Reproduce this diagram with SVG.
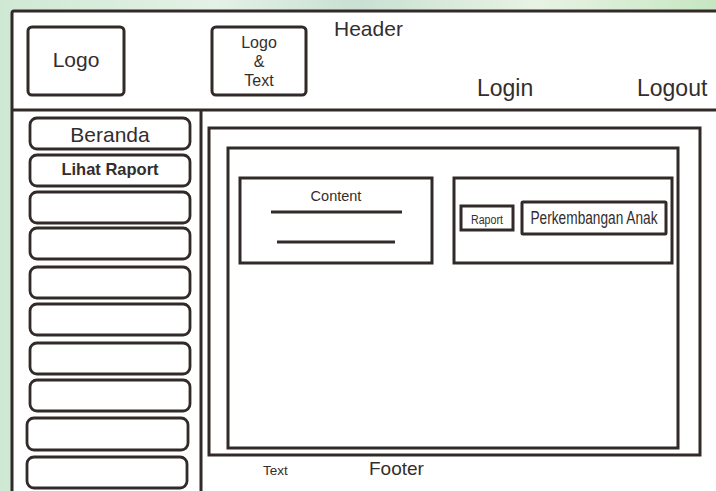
<svg xmlns="http://www.w3.org/2000/svg" width="716" height="491" viewBox="0 0 716 491">
<defs>
<linearGradient id="bg" x1="0" y1="0" x2="1" y2="0">
<stop offset="0" stop-color="#cfe8d4"/>
<stop offset="0.3" stop-color="#e4f1e6"/>
<stop offset="0.5" stop-color="#c9e0d2"/>
<stop offset="0.75" stop-color="#e8f3e4"/>
<stop offset="1" stop-color="#c6e6c2"/>
</linearGradient>
</defs>
<style>
.ln{fill:none;stroke:#322a29;stroke-width:3}
.bx{fill:#fff;stroke:#322a29;stroke-width:3}
.btn{fill:#fff;stroke:#322a29;stroke-width:2.8}
.t{font-family:"Liberation Sans",Arial,sans-serif;fill:#332e2d}
</style>
<rect x="0" y="0" width="716" height="491" fill="url(#bg)"/>
<rect x="12" y="11" width="704" height="480" fill="#fff"/>
<g id="frame">
<path class="ln" d="M716 11 H14 Q12 11 12 13 V491"/>
<line class="ln" x1="12" y1="110" x2="716" y2="110"/>
<line class="ln" x1="201" y1="110" x2="201" y2="491"/>
</g>
<g id="logo"><rect class="bx" x="28" y="27" width="96" height="68" rx="4"/><text class="t" x="76" y="67" font-size="21" text-anchor="middle">Logo</text></g>
<g id="logo-text"><rect class="bx" x="212" y="27" width="94" height="68" rx="4"/>
<text class="t" x="259" y="48" font-size="16" text-anchor="middle">Logo</text>
<text class="t" x="259" y="67" font-size="16" text-anchor="middle">&amp;</text>
<text class="t" x="259" y="86" font-size="16" text-anchor="middle">Text</text></g>
<g id="header"><text class="t" x="334" y="36" font-size="21">Header</text></g>
<g id="login"><text class="t" x="477" y="96" font-size="23">Login</text></g>
<g id="logout"><text class="t" x="637" y="96" font-size="23">Logout</text></g>
<g id="beranda"><rect class="btn" x="30" y="118" width="160" height="31" rx="7"/><text class="t" x="110" y="142" font-size="21" text-anchor="middle">Beranda</text></g>
<g id="lihat-raport"><rect class="btn" x="30" y="155" width="160" height="31" rx="7"/><text class="t" x="110" y="175" font-size="16.5" font-weight="bold" text-anchor="middle">Lihat Raport</text></g>
<g id="menu3"><rect class="btn" x="30" y="192" width="160" height="31" rx="7"/></g>
<g id="menu4"><rect class="btn" x="30" y="228" width="160" height="31" rx="7"/></g>
<g id="menu5"><rect class="btn" x="30" y="267" width="160" height="31" rx="7"/></g>
<g id="menu6"><rect class="btn" x="30" y="304" width="160" height="31" rx="7"/></g>
<g id="menu7"><rect class="btn" x="30" y="343" width="160" height="31" rx="7"/></g>
<g id="menu8"><rect class="btn" x="30" y="380" width="160" height="31" rx="7"/></g>
<g id="menu9"><rect class="btn" x="27" y="418" width="161" height="32" rx="7"/></g>
<g id="menu10"><rect class="btn" x="27" y="457" width="160" height="31" rx="7"/></g>
<g id="main-outer"><rect class="ln" x="209" y="128" width="491" height="327"/></g>
<g id="main-inner"><rect class="ln" x="228" y="148" width="450" height="300"/></g>
<g id="content"><rect class="ln" x="240" y="178" width="192" height="85"/>
<text class="t" x="336" y="201" font-size="14.5" text-anchor="middle">Content</text>
<line class="ln" x1="271" y1="212" x2="402" y2="212"/>
<line class="ln" x1="277" y1="242" x2="395" y2="242"/></g>
<g id="panel"><rect class="ln" x="454" y="178" width="218" height="85"/></g>
<g id="raport"><rect class="ln" x="461" y="206" width="52" height="24"/><text class="t" x="487" y="224" font-size="12.5" text-anchor="middle" textLength="32" lengthAdjust="spacingAndGlyphs">Raport</text></g>
<g id="perkembangan"><rect class="ln" x="522" y="202" width="144" height="32" rx="1"/><text class="t" x="594" y="224" font-size="17.5" text-anchor="middle" textLength="127" lengthAdjust="spacingAndGlyphs">Perkembangan Anak</text></g>
<g id="footer-text"><text class="t" x="263" y="475" font-size="13.5">Text</text></g>
<g id="footer"><text class="t" x="369" y="475" font-size="19">Footer</text></g>
<g id="connectors"/>
</svg>
